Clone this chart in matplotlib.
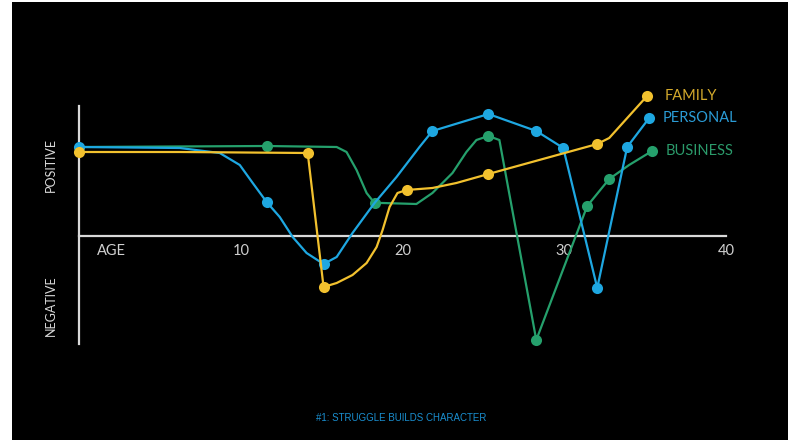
import matplotlib
matplotlib.use("Agg")
import matplotlib.pyplot as plt
from matplotlib.patches import Rectangle

# values (age, score); *_mark flags the dots
personal_age = [0, 6.23, 8.70, 9.94, 10.74, 11.60, 12.41, 13.21, 14.07, 15.12, 15.93, 16.91,
                18.27, 19.63, 21.05, 21.85, 25.31, 28.27, 29.94, 32.04, 33.89, 35.25]
personal_val = [8.9, 8.8, 8.3, 7.1, 5.3, 3.4, 1.9, -0.1, -1.7, -2.8, -2.1, 0.3,
                3.3, 5.9, 8.9, 10.5, 12.2, 10.5, 8.8, -5.2, 8.9, 11.8]
personal_mark = [1, 0, 0, 0, 0, 1, 0, 0, 0, 1, 0, 0, 0, 0, 0, 1, 1, 1, 1, 1, 1, 1]

family_age = [0, 6.23, 14.14, 15.12, 15.93, 16.91, 17.78, 18.40, 18.77, 19.20, 19.69, 20.25,
              21.85, 23.33, 25.31, 32.04, 32.78, 35.12]
family_val = [8.4, 8.4, 8.3, -5.1, -4.7, -3.9, -2.7, -1.1, 0.6, 2.9, 4.3, 4.6,
              4.8, 5.3, 6.2, 9.2, 9.8, 14.0]
family_mark = [1, 0, 1, 1, 0, 0, 0, 0, 0, 0, 0, 1, 0, 0, 1, 1, 0, 1]

business_age = [0, 11.60, 15.93, 16.54, 17.16, 17.78, 18.27, 18.77, 20.86, 21.85, 23.09, 23.95,
                24.57, 25.31, 25.99, 28.27, 31.42, 32.78, 34.01, 35.43]
business_val = [8.9, 9.0, 8.9, 8.4, 6.6, 4.3, 3.3, 3.3, 3.2, 4.3, 6.3, 8.4,
                9.6, 10.0, 9.6, -10.4, 3.0, 5.7, 7.1, 8.5]
business_mark = [0, 1, 0, 0, 0, 0, 1, 0, 0, 0, 0, 0, 0, 1, 0, 1, 1, 1, 0, 1]

tick_pos = [2, 10, 20, 30, 40]
tick_labels = ["AGE", "10", "20", "30", "40"]

YELLOW = "#f2c12e"
BLUE = "#1ea7e1"
GREEN = "#25a06c"

W, H = 788, 440
fig = plt.figure(figsize=(W / 100, H / 100), dpi=100, facecolor="white")
fig.patches.append(Rectangle((12 / W, 0), 1 - 12 / W, 438 / H, transform=fig.transFigure,
                             facecolor="black", edgecolor="none", zorder=-5))

# axes: age 0 at x=79px, age 40 at x=726px; vertical line from y=106 to 344 px
ax = fig.add_axes([79 / W, (H - 344) / H, (726 - 79) / W, (344 - 106) / H])
ax.set_facecolor("none")
ax.set_xlim(0, 40)
ax.set_ylim(-10.8, 13)

for s in ["top", "right"]:
    ax.spines[s].set_visible(False)
ax.spines["left"].set_color("#d9d9d9")
ax.spines["left"].set_linewidth(1.6)
ax.spines["bottom"].set_position(("data", 0))
ax.spines["bottom"].set_color("#d9d9d9")
ax.spines["bottom"].set_linewidth(1.6)
ax.set_yticks([])
ax.set_xticks(tick_pos, tick_labels)
ax.tick_params(axis="x", length=0, pad=5.5, colors="#cfcfcf", labelsize=10.5)
for t in ax.get_xticklabels():
    t.set_family(["Lato", "DejaVu Sans"])


def draw(age, val, mark, color, z):
    ax.plot(age, val, color=color, lw=1.6, zorder=z, clip_on=False, solid_joinstyle="round")
    ma = [a for a, m in zip(age, mark) if m]
    mv = [v for v, m in zip(val, mark) if m]
    ax.plot(ma, mv, "o", color=color, ms=8, mec="none", zorder=z + 0.5, clip_on=False)


draw(business_age, business_val, business_mark, GREEN, 3)
draw(personal_age, personal_val, personal_mark, BLUE, 4)
draw(family_age, family_val, family_mark, YELLOW, 5)

labels = [("FAMILY", family_age, family_val, "#d4aa2c", 13),
          ("PERSONAL", personal_age, personal_val, "#2b9cd6", 9.5),
          ("BUSINESS", business_age, business_val, "#2b9b6b", 9.5)]
for text, a, v, c, dx in labels:
    ax.annotate(text, (a[-1], v[-1]), xytext=(dx, 0), textcoords="offset points",
                color=c, fontsize=10.5, family=["Lato", "DejaVu Sans"], va="center", ha="left",
                annotation_clip=False)

fig.text(51 / W, 1 - 165 / H, "POSITIVE", rotation=90, color="#d9d9d9", fontsize=9,
         family=["Lato", "DejaVu Sans"], ha="center", va="center")
fig.text(51 / W, 1 - 306 / H, "NEGATIVE", rotation=90, color="#d9d9d9", fontsize=9,
         family=["Lato", "DejaVu Sans"], ha="center", va="center")

fig.text(401 / W, 1 - 418 / H, "#1: STRUGGLE BUILDS CHARACTER", color="#1a8fd0", fontsize=7,
         family=["Liberation Sans", "DejaVu Sans"], ha="center", va="center")

fig.savefig("out.png", dpi=100, facecolor="white")
